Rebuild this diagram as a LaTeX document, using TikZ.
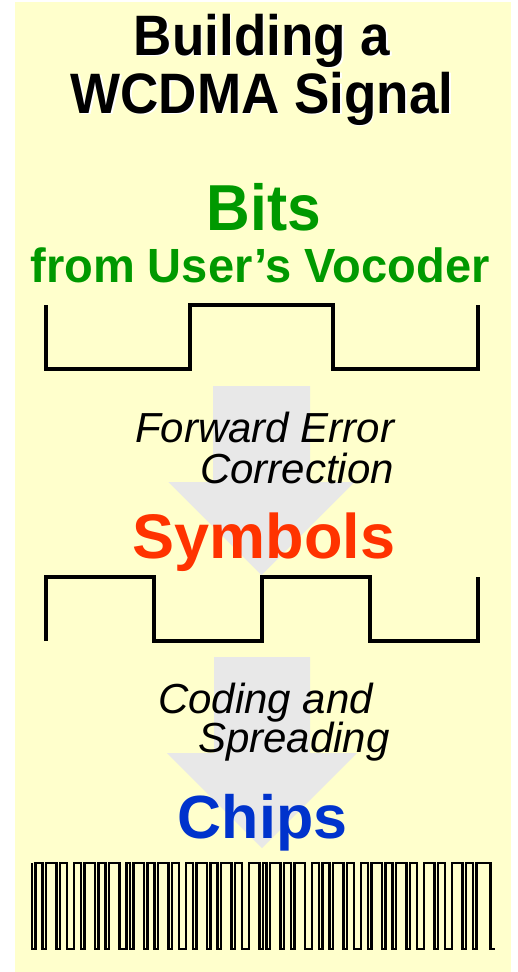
\documentclass[tikz,border=0pt]{standalone}
\usepackage{fontspec}
\setmainfont{Liberation Sans}
\definecolor{paper}{HTML}{FFFFCC}
\definecolor{flowgray}{HTML}{E8E8E8}
\definecolor{bitgreen}{HTML}{009900}
\definecolor{symred}{HTML}{FF3300}
\definecolor{chipblue}{HTML}{0033CC}
\begin{document}
\begin{tikzpicture}[x=1pt,y=-1pt,
  wave/.style={line width=3.8pt, line join=miter, line cap=butt, black},
  chipwave/.style={line width=2.8pt, line join=miter, black},
  flow/.style={fill=flowgray, draw=none},
  titletext/.style={font=\bfseries\fontsize{57}{60}\selectfont, anchor=base, inner sep=0pt},
  bigword/.style={font=\bfseries\fontsize{63}{66}\selectfont, anchor=base, inner sep=0pt},
  subword/.style={font=\bfseries\fontsize{48}{52}\selectfont, anchor=base, inner sep=0pt},
  stepnote/.style={font=\itshape\fontsize{42}{46}\selectfont, anchor=base west, inner sep=0pt, black}]
\useasboundingbox (0,0) rectangle (518,972);
% panel
\fill[paper] (15,2) rectangle (511,972);

% process arrows
\fill[flow] (213,386) -- (310,386) -- (310,482) -- (354.5,482) -- (261.5,575)
  -- (168.5,482) -- (213,482) -- cycle;
\fill[flow] (214,657) -- (310,657) -- (310,753) -- (357,753) -- (262,848)
  -- (167,753) -- (214,753) -- cycle;

% bit stream
\draw[wave] (46,305) -- (46,369) -- (190,369) -- (190,305) -- (333,305)
  -- (333,369) -- (478,369) -- (478,305);

% symbol stream
\draw[wave] (46,641) -- (46,577) -- (154,577) -- (154,641) -- (262,641)
  -- (262,577) -- (370,577) -- (370,641) -- (478,641) -- (478,577);

% chip stream: low/high run lengths in chip units
\draw[chipwave] (32,863) -- (32,949)
  \foreach \l/\h in {1/2,1/3,1/2,2/2,1/3,1/2,1/3,2/1,1/3,1/2,
                     1/3,1/2,2/2,1/3,1/2,1/3,1/2,2/3,1/1,1/3,
                     1/2,1/3,2/2,1/2,1/3,1/2,2/2,1/3,1/2,1/3,
                     1/2,2/3,1/2,2/3,1/2,1/4}
  { -- ++({\l*3.5},0) -- ++(0,-86) -- ++({\h*3.5},0) -- ++(0,86) }
  -- ++(4,0);

% title
\node[titletext, white] (titleAshade) at (263.5,56.5) {\scalebox{0.93}[1]{Building a}};
\node[titletext] (titleA) at (262,55) {\scalebox{0.93}[1]{Building a}};
\node[titletext, white] (titleBshade) at (263.5,114.5) {\scalebox{0.93}[1]{WCDMA Signal}};
\node[titletext] (titleB) at (262,113) {\scalebox{0.93}[1]{WCDMA Signal}};

% stage labels
\node[bigword, bitgreen, font=\bfseries\fontsize{65}{68}\selectfont] (bits) at (264,230) {\scalebox{0.93}[1]{Bits}};
\node[subword, bitgreen] (vocoder) at (260,282) {\scalebox{0.98}[1]{from User’s Vocoder}};
\node[stepnote] (fec1) at (135,442) {Forward Error};
\node[stepnote] (fec2) at (200,483) {Correction};
\node[bigword, symred] (symbols) at (264,558) {Symbols};
\node[stepnote] (cod1) at (158,713) {Coding and};
\node[stepnote] (cod2) at (198,752) {Spreading};
\node[bigword, chipblue, font=\bfseries\fontsize{61}{64}\selectfont] (chips) at (262.5,838) {Chips};
\end{tikzpicture}
\end{document}
